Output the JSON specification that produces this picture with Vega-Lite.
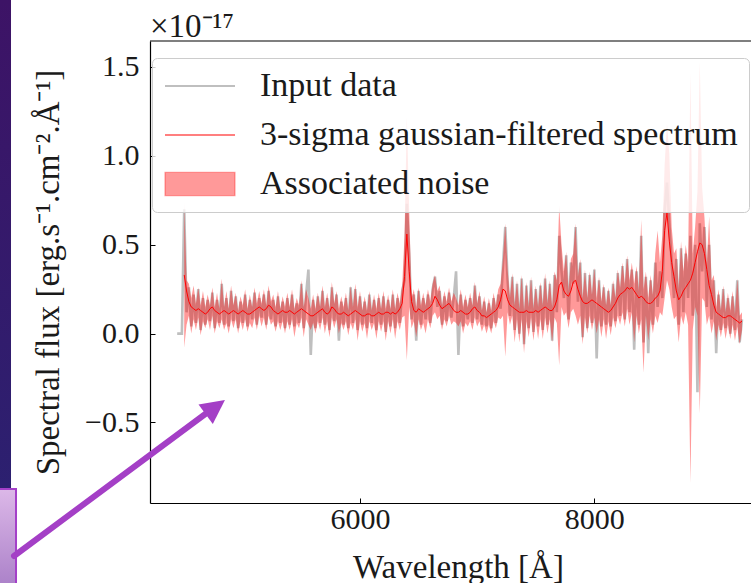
{
  "$schema": "https://vega.github.io/schema/vega-lite/v6.json",
  "width": 601,
  "height": 462,
  "autosize": {"type": "none"},
  "padding": {"left": 150, "top": 41, "right": 0, "bottom": 80},
  "background": "white",
  "title": {"text": "×10⁻¹⁷", "anchor": "start", "frame": "group", "baseline": "alphabetic", "offset": -70, "font": "Liberation Serif", "fontSize": 33, "fontWeight": "normal", "color": "#1a1a1a"},
  "config": {
    "view": {"stroke": null},
    "axis": {"domainColor": "#000", "domainWidth": 1.2, "tickColor": "#000", "tickWidth": 1, "tickSize": -5, "grid": false, "labelFont": "Liberation Serif", "labelFontSize": 30, "labelColor": "#1a1a1a", "titleFont": "Liberation Serif", "titleFontSize": 33, "titleFontWeight": "normal", "titleColor": "#1a1a1a"}
  },
  "datasets": {
    "spec": [
      {"w":4440,"s":0,"f":null,"lo":null,"hi":null},
      {"w":4460,"s":0,"f":null,"lo":null,"hi":null},
      {"w":4480,"s":0,"f":null,"lo":null,"hi":null},
      {"w":4500,"s":0.70,"f":0.33,"lo":-0.08,"hi":0.74},
      {"w":4520,"s":0.12,"f":0.24,"lo":0.05,"hi":0.30},
      {"w":4540,"s":0.26,"f":0.18,"lo":0.10,"hi":0.28},
      {"w":4560,"s":0.04,"f":0.15,"lo":0.00,"hi":0.20},
      {"w":4580,"s":0.22,"f":0.14,"lo":0.08,"hi":0.27},
      {"w":4600,"s":0.06,"f":0.13,"lo":0.02,"hi":0.17},
      {"w":4620,"s":0.25,"f":0.14,"lo":0.09,"hi":0.26},
      {"w":4640,"s":0.02,"f":0.13,"lo":-0.01,"hi":0.16},
      {"w":4660,"s":0.20,"f":0.12,"lo":0.07,"hi":0.24},
      {"w":4680,"s":0.05,"f":0.11,"lo":0.03,"hi":0.15},
      {"w":4700,"s":0.19,"f":0.12,"lo":0.08,"hi":0.22},
      {"w":4720,"s":0.07,"f":0.14,"lo":0.02,"hi":0.16},
      {"w":4740,"s":0.23,"f":0.15,"lo":0.10,"hi":0.26},
      {"w":4760,"s":0.03,"f":0.13,"lo":0.00,"hi":0.15},
      {"w":4780,"s":0.19,"f":0.12,"lo":0.07,"hi":0.23},
      {"w":4800,"s":0.06,"f":0.11,"lo":0.03,"hi":0.14},
      {"w":4820,"s":0.28,"f":0.12,"lo":0.08,"hi":0.31},
      {"w":4840,"s":0.05,"f":0.13,"lo":0.02,"hi":0.15},
      {"w":4860,"s":0.20,"f":0.12,"lo":0.06,"hi":0.24},
      {"w":4880,"s":0.04,"f":0.11,"lo":0.00,"hi":0.14},
      {"w":4900,"s":0.24,"f":0.12,"lo":0.08,"hi":0.27},
      {"w":4920,"s":0.07,"f":0.13,"lo":0.03,"hi":0.16},
      {"w":4940,"s":0.21,"f":0.12,"lo":0.08,"hi":0.23},
      {"w":4960,"s":0.03,"f":0.11,"lo":0.00,"hi":0.13},
      {"w":4980,"s":0.18,"f":0.12,"lo":0.07,"hi":0.21},
      {"w":5000,"s":0.06,"f":0.13,"lo":0.02,"hi":0.16},
      {"w":5020,"s":0.22,"f":0.12,"lo":0.08,"hi":0.25},
      {"w":5040,"s":0.04,"f":0.11,"lo":0.01,"hi":0.14},
      {"w":5060,"s":0.19,"f":0.11,"lo":0.06,"hi":0.22},
      {"w":5080,"s":0.08,"f":0.12,"lo":0.03,"hi":0.15},
      {"w":5100,"s":0.23,"f":0.13,"lo":0.09,"hi":0.26},
      {"w":5120,"s":0.05,"f":0.14,"lo":0.02,"hi":0.17},
      {"w":5140,"s":0.20,"f":0.15,"lo":0.10,"hi":0.24},
      {"w":5160,"s":0.09,"f":0.14,"lo":0.04,"hi":0.17},
      {"w":5180,"s":0.22,"f":0.13,"lo":0.09,"hi":0.25},
      {"w":5200,"s":0.05,"f":0.14,"lo":0.02,"hi":0.16},
      {"w":5220,"s":0.24,"f":0.16,"lo":0.10,"hi":0.27},
      {"w":5240,"s":0.08,"f":0.15,"lo":0.05,"hi":0.18},
      {"w":5260,"s":0.19,"f":0.13,"lo":0.07,"hi":0.22},
      {"w":5280,"s":0.04,"f":0.12,"lo":0.01,"hi":0.15},
      {"w":5300,"s":0.21,"f":0.11,"lo":0.07,"hi":0.24},
      {"w":5320,"s":0.06,"f":0.12,"lo":0.02,"hi":0.14},
      {"w":5340,"s":0.18,"f":0.13,"lo":0.07,"hi":0.21},
      {"w":5360,"s":0.03,"f":0.12,"lo":0.00,"hi":0.15},
      {"w":5380,"s":0.20,"f":0.12,"lo":0.07,"hi":0.23},
      {"w":5400,"s":0.05,"f":0.13,"lo":0.02,"hi":0.15},
      {"w":5420,"s":0.22,"f":0.12,"lo":0.08,"hi":0.25},
      {"w":5440,"s":0.04,"f":0.11,"lo":-0.02,"hi":0.14},
      {"w":5460,"s":0.17,"f":0.12,"lo":0.06,"hi":0.20},
      {"w":5480,"s":0.06,"f":0.13,"lo":0.03,"hi":0.16},
      {"w":5500,"s":0.28,"f":0.14,"lo":0.09,"hi":0.30},
      {"w":5520,"s":0.03,"f":0.13,"lo":-0.02,"hi":0.15},
      {"w":5540,"s":0.22,"f":0.12,"lo":0.08,"hi":0.25},
      {"w":5560,"s":0.36,"f":0.11,"lo":0.05,"hi":0.20},
      {"w":5580,"s":-0.12,"f":0.10,"lo":0.02,"hi":0.14},
      {"w":5600,"s":0.19,"f":0.10,"lo":0.06,"hi":0.22},
      {"w":5620,"s":0.03,"f":0.11,"lo":0.00,"hi":0.14},
      {"w":5640,"s":0.21,"f":0.12,"lo":0.07,"hi":0.23},
      {"w":5660,"s":0.06,"f":0.13,"lo":0.02,"hi":0.15},
      {"w":5680,"s":0.24,"f":0.14,"lo":0.09,"hi":0.27},
      {"w":5700,"s":0.05,"f":0.12,"lo":0.00,"hi":0.15},
      {"w":5720,"s":0.20,"f":0.11,"lo":0.07,"hi":0.23},
      {"w":5740,"s":0.02,"f":0.12,"lo":-0.02,"hi":0.14},
      {"w":5760,"s":0.26,"f":0.15,"lo":0.09,"hi":0.29},
      {"w":5780,"s":0.07,"f":0.14,"lo":0.03,"hi":0.17},
      {"w":5800,"s":0.22,"f":0.12,"lo":0.08,"hi":0.24},
      {"w":5820,"s":-0.04,"f":0.11,"lo":0.00,"hi":0.14},
      {"w":5840,"s":0.18,"f":0.11,"lo":0.06,"hi":0.21},
      {"w":5860,"s":0.05,"f":0.12,"lo":0.02,"hi":0.15},
      {"w":5880,"s":0.20,"f":0.11,"lo":0.07,"hi":0.23},
      {"w":5900,"s":0.03,"f":0.10,"lo":-0.01,"hi":0.13},
      {"w":5920,"s":0.26,"f":0.11,"lo":0.06,"hi":0.27},
      {"w":5940,"s":0.06,"f":0.12,"lo":0.02,"hi":0.15},
      {"w":5960,"s":0.25,"f":0.13,"lo":0.08,"hi":0.28},
      {"w":5980,"s":0.02,"f":0.12,"lo":-0.04,"hi":0.15},
      {"w":6000,"s":0.21,"f":0.11,"lo":0.07,"hi":0.24},
      {"w":6020,"s":0.05,"f":0.10,"lo":0.01,"hi":0.13},
      {"w":6040,"s":0.18,"f":0.10,"lo":0.06,"hi":0.21},
      {"w":6060,"s":0.03,"f":0.11,"lo":-0.03,"hi":0.13},
      {"w":6080,"s":0.22,"f":0.11,"lo":0.07,"hi":0.24},
      {"w":6100,"s":0.06,"f":0.10,"lo":0.02,"hi":0.13},
      {"w":6120,"s":0.19,"f":0.10,"lo":0.06,"hi":0.22},
      {"w":6140,"s":0.02,"f":0.11,"lo":-0.03,"hi":0.14},
      {"w":6160,"s":0.20,"f":0.12,"lo":0.07,"hi":0.23},
      {"w":6180,"s":0.05,"f":0.11,"lo":0.01,"hi":0.14},
      {"w":6200,"s":0.21,"f":0.11,"lo":0.07,"hi":0.24},
      {"w":6220,"s":0.01,"f":0.12,"lo":-0.04,"hi":0.14},
      {"w":6240,"s":0.19,"f":0.12,"lo":0.07,"hi":0.22},
      {"w":6260,"s":0.04,"f":0.11,"lo":0.00,"hi":0.14},
      {"w":6280,"s":0.22,"f":0.12,"lo":0.08,"hi":0.25},
      {"w":6300,"s":0.03,"f":0.11,"lo":-0.03,"hi":0.14},
      {"w":6320,"s":0.20,"f":0.12,"lo":0.07,"hi":0.23},
      {"w":6340,"s":0.06,"f":0.14,"lo":0.02,"hi":0.17},
      {"w":6360,"s":0.24,"f":0.17,"lo":0.09,"hi":0.27},
      {"w":6380,"s":0.30,"f":0.32,"lo":0.10,"hi":0.55},
      {"w":6400,"s":0.73,"f":0.56,"lo":-0.15,"hi":1.22},
      {"w":6420,"s":0.45,"f":0.35,"lo":0.15,"hi":0.70},
      {"w":6440,"s":0.08,"f":0.18,"lo":0.03,"hi":0.20},
      {"w":6460,"s":0.22,"f":0.13,"lo":0.07,"hi":0.25},
      {"w":6480,"s":-0.04,"f":0.12,"lo":-0.02,"hi":0.15},
      {"w":6500,"s":0.24,"f":0.14,"lo":0.08,"hi":0.26},
      {"w":6520,"s":0.05,"f":0.13,"lo":0.02,"hi":0.16},
      {"w":6540,"s":0.20,"f":0.12,"lo":0.06,"hi":0.23},
      {"w":6560,"s":0.08,"f":0.13,"lo":0.00,"hi":0.16},
      {"w":6580,"s":0.22,"f":0.14,"lo":0.08,"hi":0.25},
      {"w":6600,"s":0.06,"f":0.15,"lo":0.03,"hi":0.18},
      {"w":6620,"s":0.25,"f":0.17,"lo":0.10,"hi":0.28},
      {"w":6640,"s":0.32,"f":0.21,"lo":0.12,"hi":0.33},
      {"w":6660,"s":0.15,"f":0.19,"lo":0.08,"hi":0.24},
      {"w":6680,"s":0.24,"f":0.16,"lo":0.10,"hi":0.27},
      {"w":6700,"s":0.05,"f":0.14,"lo":0.02,"hi":0.16},
      {"w":6720,"s":0.21,"f":0.15,"lo":0.08,"hi":0.24},
      {"w":6740,"s":0.07,"f":0.16,"lo":0.04,"hi":0.18},
      {"w":6760,"s":0.23,"f":0.17,"lo":0.10,"hi":0.26},
      {"w":6780,"s":0.09,"f":0.15,"lo":0.05,"hi":0.18},
      {"w":6800,"s":0.20,"f":0.13,"lo":0.07,"hi":0.23},
      {"w":6820,"s":0.35,"f":0.12,"lo":0.06,"hi":0.20},
      {"w":6840,"s":-0.12,"f":0.12,"lo":0.04,"hi":0.16},
      {"w":6860,"s":0.22,"f":0.13,"lo":0.07,"hi":0.25},
      {"w":6880,"s":0.04,"f":0.12,"lo":0.00,"hi":0.15},
      {"w":6900,"s":0.19,"f":0.11,"lo":0.06,"hi":0.22},
      {"w":6920,"s":0.08,"f":0.11,"lo":0.04,"hi":0.15},
      {"w":6940,"s":0.20,"f":0.12,"lo":0.07,"hi":0.23},
      {"w":6960,"s":0.06,"f":0.14,"lo":0.02,"hi":0.16},
      {"w":6980,"s":0.27,"f":0.15,"lo":0.09,"hi":0.29},
      {"w":7000,"s":0.08,"f":0.13,"lo":0.04,"hi":0.17},
      {"w":7020,"s":0.21,"f":0.12,"lo":0.07,"hi":0.24},
      {"w":7040,"s":0.05,"f":0.10,"lo":0.01,"hi":0.13},
      {"w":7060,"s":0.18,"f":0.10,"lo":0.05,"hi":0.21},
      {"w":7080,"s":0.04,"f":0.09,"lo":0.00,"hi":0.12},
      {"w":7100,"s":0.17,"f":0.10,"lo":0.05,"hi":0.20},
      {"w":7120,"s":0.03,"f":0.11,"lo":0.00,"hi":0.13},
      {"w":7140,"s":0.20,"f":0.12,"lo":0.07,"hi":0.23},
      {"w":7160,"s":0.06,"f":0.13,"lo":0.03,"hi":0.16},
      {"w":7180,"s":0.22,"f":0.15,"lo":0.09,"hi":0.25},
      {"w":7200,"s":0.14,"f":0.19,"lo":0.08,"hi":0.28},
      {"w":7220,"s":0.38,"f":0.25,"lo":0.10,"hi":0.42},
      {"w":7240,"s":0.60,"f":0.24,"lo":-0.13,"hi":0.62},
      {"w":7260,"s":0.30,"f":0.19,"lo":0.12,"hi":0.36},
      {"w":7280,"s":0.10,"f":0.16,"lo":0.05,"hi":0.20},
      {"w":7300,"s":0.32,"f":0.15,"lo":0.10,"hi":0.34},
      {"w":7320,"s":0.02,"f":0.14,"lo":-0.05,"hi":0.16},
      {"w":7340,"s":0.28,"f":0.13,"lo":0.08,"hi":0.30},
      {"w":7360,"s":0.00,"f":0.12,"lo":-0.05,"hi":0.14},
      {"w":7380,"s":0.31,"f":0.12,"lo":0.08,"hi":0.33},
      {"w":7400,"s":-0.06,"f":0.12,"lo":-0.11,"hi":0.13},
      {"w":7420,"s":0.27,"f":0.13,"lo":0.07,"hi":0.29},
      {"w":7440,"s":0.03,"f":0.12,"lo":-0.02,"hi":0.15},
      {"w":7460,"s":0.30,"f":0.12,"lo":0.09,"hi":0.32},
      {"w":7480,"s":0.01,"f":0.12,"lo":-0.04,"hi":0.14},
      {"w":7500,"s":0.25,"f":0.13,"lo":0.07,"hi":0.27},
      {"w":7520,"s":0.04,"f":0.12,"lo":-0.03,"hi":0.15},
      {"w":7540,"s":0.27,"f":0.13,"lo":0.08,"hi":0.29},
      {"w":7560,"s":0.02,"f":0.14,"lo":-0.03,"hi":0.16},
      {"w":7580,"s":0.31,"f":0.15,"lo":0.09,"hi":0.34},
      {"w":7600,"s":0.05,"f":0.14,"lo":0.00,"hi":0.17},
      {"w":7620,"s":0.28,"f":0.13,"lo":0.08,"hi":0.30},
      {"w":7640,"s":-0.04,"f":0.13,"lo":-0.05,"hi":0.15},
      {"w":7660,"s":0.33,"f":0.15,"lo":0.09,"hi":0.35},
      {"w":7680,"s":0.12,"f":0.19,"lo":0.06,"hi":0.30},
      {"w":7700,"s":0.55,"f":0.27,"lo":-0.18,"hi":0.72},
      {"w":7720,"s":0.35,"f":0.29,"lo":0.15,"hi":0.50},
      {"w":7740,"s":0.20,"f":0.24,"lo":0.10,"hi":0.35},
      {"w":7760,"s":0.44,"f":0.22,"lo":0.12,"hi":0.46},
      {"w":7780,"s":0.08,"f":0.21,"lo":0.03,"hi":0.24},
      {"w":7800,"s":0.40,"f":0.24,"lo":0.12,"hi":0.42},
      {"w":7820,"s":0.28,"f":0.29,"lo":0.14,"hi":0.45},
      {"w":7840,"s":0.60,"f":0.30,"lo":0.10,"hi":0.62},
      {"w":7860,"s":0.18,"f":0.25,"lo":0.05,"hi":0.32},
      {"w":7880,"s":0.40,"f":0.21,"lo":0.10,"hi":0.42},
      {"w":7900,"s":-0.02,"f":0.18,"lo":-0.06,"hi":0.20},
      {"w":7920,"s":0.34,"f":0.17,"lo":0.09,"hi":0.36},
      {"w":7940,"s":0.03,"f":0.17,"lo":0.00,"hi":0.20},
      {"w":7960,"s":0.33,"f":0.18,"lo":0.10,"hi":0.35},
      {"w":7980,"s":0.06,"f":0.19,"lo":0.02,"hi":0.22},
      {"w":8000,"s":0.36,"f":0.18,"lo":0.09,"hi":0.37},
      {"w":8020,"s":-0.14,"f":0.17,"lo":0.00,"hi":0.20},
      {"w":8040,"s":0.30,"f":0.16,"lo":0.08,"hi":0.32},
      {"w":8060,"s":0.04,"f":0.15,"lo":-0.02,"hi":0.18},
      {"w":8080,"s":0.26,"f":0.14,"lo":0.08,"hi":0.28},
      {"w":8100,"s":0.05,"f":0.13,"lo":-0.03,"hi":0.16},
      {"w":8120,"s":0.24,"f":0.12,"lo":0.07,"hi":0.26},
      {"w":8140,"s":0.04,"f":0.13,"lo":-0.01,"hi":0.16},
      {"w":8160,"s":0.28,"f":0.15,"lo":0.09,"hi":0.30},
      {"w":8180,"s":0.07,"f":0.17,"lo":0.03,"hi":0.20},
      {"w":8200,"s":0.34,"f":0.20,"lo":0.10,"hi":0.36},
      {"w":8220,"s":0.10,"f":0.22,"lo":0.05,"hi":0.26},
      {"w":8240,"s":0.38,"f":0.23,"lo":0.12,"hi":0.40},
      {"w":8260,"s":0.08,"f":0.24,"lo":0.04,"hi":0.28},
      {"w":8280,"s":0.42,"f":0.26,"lo":0.14,"hi":0.44},
      {"w":8300,"s":0.12,"f":0.25,"lo":0.05,"hi":0.30},
      {"w":8320,"s":0.36,"f":0.26,"lo":0.12,"hi":0.40},
      {"w":8340,"s":-0.09,"f":0.24,"lo":-0.05,"hi":0.28},
      {"w":8360,"s":0.35,"f":0.22,"lo":0.10,"hi":0.38},
      {"w":8380,"s":0.05,"f":0.20,"lo":0.00,"hi":0.24},
      {"w":8400,"s":0.55,"f":0.21,"lo":0.08,"hi":0.64},
      {"w":8420,"s":-0.05,"f":0.20,"lo":-0.22,"hi":0.25},
      {"w":8440,"s":0.32,"f":0.18,"lo":0.10,"hi":0.35},
      {"w":8460,"s":-0.11,"f":0.17,"lo":-0.04,"hi":0.20},
      {"w":8480,"s":0.30,"f":0.17,"lo":0.08,"hi":0.33},
      {"w":8500,"s":0.05,"f":0.18,"lo":0.00,"hi":0.22},
      {"w":8520,"s":0.40,"f":0.20,"lo":0.10,"hi":0.45},
      {"w":8540,"s":0.15,"f":0.21,"lo":0.06,"hi":0.58},
      {"w":8560,"s":0.35,"f":0.24,"lo":0.12,"hi":0.40},
      {"w":8580,"s":0.20,"f":0.35,"lo":0.10,"hi":0.55},
      {"w":8600,"s":0.70,"f":0.58,"lo":0.20,"hi":0.95},
      {"w":8620,"s":0.85,"f":0.68,"lo":0.30,"hi":1.18},
      {"w":8640,"s":0.62,"f":0.52,"lo":0.25,"hi":1.01},
      {"w":8660,"s":0.40,"f":0.40,"lo":0.15,"hi":0.60},
      {"w":8680,"s":0.20,"f":0.32,"lo":0.08,"hi":0.45},
      {"w":8700,"s":0.42,"f":0.24,"lo":0.10,"hi":0.48},
      {"w":8720,"s":0.05,"f":0.19,"lo":-0.05,"hi":0.25},
      {"w":8740,"s":0.48,"f":0.21,"lo":0.10,"hi":0.52},
      {"w":8760,"s":0.12,"f":0.24,"lo":0.05,"hi":0.35},
      {"w":8780,"s":0.45,"f":0.26,"lo":0.12,"hi":0.50},
      {"w":8800,"s":0.20,"f":0.28,"lo":0.05,"hi":0.40},
      {"w":8820,"s":0.55,"f":0.30,"lo":-0.84,"hi":1.47},
      {"w":8840,"s":0.10,"f":0.34,"lo":0.02,"hi":0.45},
      {"w":8860,"s":0.50,"f":0.40,"lo":0.15,"hi":0.60},
      {"w":8880,"s":-0.33,"f":0.46,"lo":0.10,"hi":0.80},
      {"w":8900,"s":0.62,"f":0.51,"lo":-0.45,"hi":1.53},
      {"w":8920,"s":0.35,"f":0.50,"lo":0.20,"hi":0.82},
      {"w":8940,"s":0.60,"f":0.45,"lo":0.18,"hi":0.65},
      {"w":8960,"s":0.15,"f":0.36,"lo":0.05,"hi":0.40},
      {"w":8980,"s":0.50,"f":0.27,"lo":0.10,"hi":0.66},
      {"w":9000,"s":0.08,"f":0.22,"lo":0.00,"hi":0.30},
      {"w":9020,"s":0.30,"f":0.16,"lo":0.07,"hi":0.33},
      {"w":9040,"s":-0.11,"f":0.12,"lo":-0.04,"hi":0.15},
      {"w":9060,"s":0.22,"f":0.11,"lo":0.05,"hi":0.25},
      {"w":9080,"s":0.02,"f":0.10,"lo":-0.02,"hi":0.13},
      {"w":9100,"s":0.25,"f":0.09,"lo":0.06,"hi":0.27},
      {"w":9120,"s":0.03,"f":0.09,"lo":-0.03,"hi":0.12},
      {"w":9140,"s":0.20,"f":0.10,"lo":0.05,"hi":0.23},
      {"w":9160,"s":0.00,"f":0.10,"lo":-0.03,"hi":0.13},
      {"w":9180,"s":0.21,"f":0.09,"lo":0.05,"hi":0.24},
      {"w":9200,"s":0.02,"f":0.08,"lo":-0.04,"hi":0.11},
      {"w":9220,"s":0.30,"f":0.07,"lo":0.04,"hi":0.31},
      {"w":9240,"s":-0.05,"f":0.06,"lo":-0.06,"hi":0.10},
      {"w":9260,"s":0.08,"f":0.07,"lo":0.02,"hi":0.12}
    ]
  },
  "layer": [
    {
      "data": {"values": [{"x": 2927.9, "x2": 3021.8, "y": 1.8766, "y2": -0.8742}]},
      "mark": {"type": "rect", "clip": false, "color": {"gradient": "linear", "x1": 0, "y1": 0, "x2": 0, "y2": 1, "stops": [{"offset": 0, "color": "#3d1366"}, {"offset": 1, "color": "#2c2070"}]}},
      "encoding": {
        "x": {"field": "x", "type": "quantitative", "scale": {"domain": [4208, 9337], "nice": false, "zero": false}},
        "x2": {"field": "x2"},
        "y": {"field": "y", "type": "quantitative", "scale": {"domain": [-0.953, 1.646], "nice": false, "zero": false}},
        "y2": {"field": "y2"}
      }
    },
    {
      "data": {"values": [{"x": 2900, "x2": 3064.5, "y": -0.8742, "y2": -1.5}]},
      "mark": {"type": "rect", "clip": false, "stroke": "#a440c8", "strokeWidth": 2, "color": {"gradient": "linear", "x1": 0, "y1": 0, "x2": 0, "y2": 1, "stops": [{"offset": 0, "color": "#dcb8e8"}, {"offset": 1, "color": "#a479c4"}]}},
      "encoding": {
        "x": {"field": "x", "type": "quantitative"},
        "x2": {"field": "x2"},
        "y": {"field": "y", "type": "quantitative"},
        "y2": {"field": "y2"}
      }
    },
    {
      "data": {"name": "spec"},
      "mark": {"type": "line", "strokeWidth": 2.6, "clip": true},
      "encoding": {
        "x": {"field": "w", "type": "quantitative", "axis": {"values": [6000, 8000], "format": "d", "title": "Wavelength [Å]", "labelPadding": 6, "titleX": 308, "titleY": 74, "titleBaseline": "alphabetic"}},
        "y": {"field": "s", "type": "quantitative", "axis": {"values": [-0.5, 0, 0.5, 1, 1.5], "labelExpr": "datum.value < 0 ? '−' + format(-datum.value, '.1f') : format(datum.value, '.1f')", "title": "Spectral flux [erg.s⁻¹.cm⁻².Å⁻¹]", "labelPadding": 16, "titleX": -92, "titleBaseline": "alphabetic"}},
        "color": {"datum": "Input data", "type": "nominal", "scale": {"domain": ["Input data", "3-sigma gaussian-filtered spectrum", "Associated noise"], "range": ["#bfbfbf", "#ff0000", "#ff0000"]},
          "legend": {"title": null, "orient": "none", "legendX": 2, "legendY": 17, "labelFont": "Liberation Serif", "labelFontSize": 34, "labelColor": "#1a1a1a", "labelLimit": 0, "symbolSize": 900, "symbolOffset": 20, "rowPadding": 15, "labelOffset": 43, "padding": 11, "fillColor": "rgba(255,255,255,0.8)", "strokeColor": "#cccccc", "cornerRadius": 5,
            "encode": {"symbols": {"update": {
              "shape": {"signal": "datum.value === 'Associated noise' ? 'M-1,-0.33H1V0.33H-1Z' : 'stroke'"},
              "size": {"value": 4900},
              "stroke": {"signal": "datum.value === 'Input data' ? '#bfbfbf' : '#ff0000'"},
              "strokeWidth": {"signal": "datum.value === 'Input data' ? 2.2 : 1.2"},
              "fill": {"signal": "datum.value === 'Associated noise' ? '#ff0000' : 'transparent'"},
              "fillOpacity": {"signal": "datum.value === 'Associated noise' ? 0.4 : 0"},
              "strokeOpacity": {"signal": "datum.value === 'Associated noise' ? 0.35 : 1"},
              "opacity": {"value": 1}
            }}}}
        }
      }
    },
    {
      "data": {"name": "spec"},
      "mark": {"type": "line", "strokeWidth": 1, "clip": true},
      "encoding": {
        "x": {"field": "w", "type": "quantitative"},
        "y": {"field": "f", "type": "quantitative"},
        "color": {"datum": "3-sigma gaussian-filtered spectrum", "type": "nominal"}
      }
    },
    {
      "data": {"name": "spec"},
      "mark": {"type": "area", "opacity": 0.4, "clip": true},
      "encoding": {
        "x": {"field": "w", "type": "quantitative"},
        "y": {"field": "lo", "type": "quantitative"},
        "y2": {"field": "hi"},
        "color": {"datum": "Associated noise", "type": "nominal"}
      }
    },
    {
      "data": {"values": [{}]},
      "mark": {"type": "rule", "color": "#000", "strokeWidth": 1.2},
      "encoding": {"y": {"datum": 1.646, "type": "quantitative"}}
    },
    {
      "data": {"values": [{"x": 3047.4, "y": -1.2511, "x2": 4703, "y2": -0.4411}]},
      "mark": {"type": "rule", "clip": false, "color": "#a43fc6", "strokeWidth": 6, "strokeCap": "round"},
      "encoding": {
        "x": {"field": "x", "type": "quantitative"},
        "y": {"field": "y", "type": "quantitative"},
        "x2": {"field": "x2"},
        "y2": {"field": "y2"}
      }
    },
    {
      "data": {"values": [{"x": 4744.8, "y": -0.4236}]},
      "mark": {"type": "point", "clip": false, "filled": true, "shape": "M0,-1L0.8,0.6L-0.8,0.6Z", "size": 900, "angle": 53.5, "color": "#a43fc6", "opacity": 1},
      "encoding": {
        "x": {"field": "x", "type": "quantitative"},
        "y": {"field": "y", "type": "quantitative"}
      }
    }
  ]
}
